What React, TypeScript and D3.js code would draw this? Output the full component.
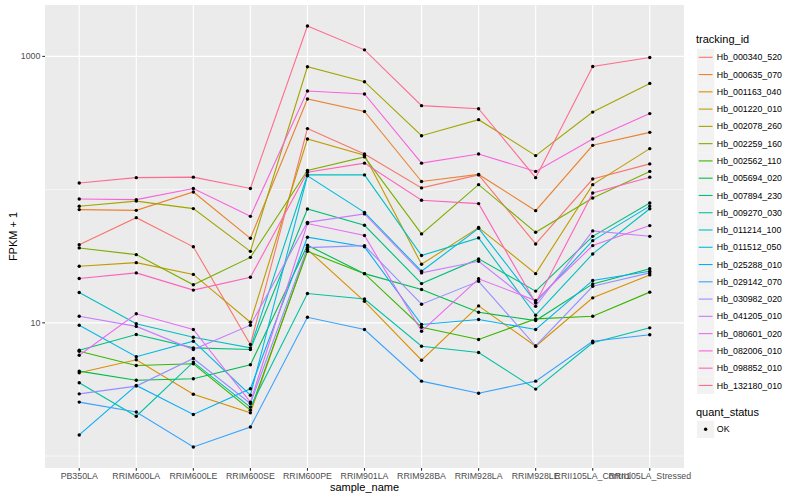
import React, { useEffect, useRef } from 'react';
import * as d3 from 'd3';

const samples = [
  'PB350LA', 'RRIM600LA', 'RRIM600LE', 'RRIM600SE', 'RRIM600PE', 'RRIM901LA',
  'RRIM928BA', 'RRIM928LA', 'RRIM928LE', 'RRII105LA_Control', 'RRII105LA_Stressed',
];

const trackingIds = [
  'Hb_000340_520', 'Hb_000635_070', 'Hb_001163_040', 'Hb_001220_010', 'Hb_002078_260',
  'Hb_002259_160', 'Hb_002562_110', 'Hb_005694_020', 'Hb_007894_230', 'Hb_009270_030',
  'Hb_011214_100', 'Hb_011512_050', 'Hb_025288_010', 'Hb_029142_070', 'Hb_030982_020',
  'Hb_041205_010', 'Hb_080601_020', 'Hb_082006_010', 'Hb_098852_010', 'Hb_132180_010',
];

// ggplot default hue palette, 20 levels
const hueColors = [
  '#F8766D', '#EA8331', '#D89000', '#C09B00', '#A3A500', '#7CAE00', '#39B600', '#00BB4E',
  '#00BF7D', '#00C1A3', '#00BFC4', '#00BAE0', '#00B0F6', '#35A2FF', '#9590FF', '#C77CFF',
  '#E76BF3', '#FA62DB', '#FF62BC', '#FF6C91',
];

// FPKM + 1, one value per sample
const hb000340 = [38.6, 61.6, 37.2, 6.88, 287, 185, 103, 129, 39.1, 120, 156];
const hb000635 = [70.8, 69.9, 96, 43.1, 479, 386, 115, 130, 69.5, 215, 269];
const hb001163 = [4.22, 5.28, 2.91, 2.11, 35.5, 14.5, 5.24, 13.4, 6.67, 15.4, 22.9];
const hb001220 = [26.6, 28.3, 23.1, 10.1, 240, 181, 27.5, 51.9, 23.4, 109, 203];
const hb002078 = [75, 82, 72, 34.4, 836, 646, 254, 335, 180, 382, 627];
const hb002259 = [36.5, 32.5, 19.3, 31, 139, 176, 46.5, 109, 47.8, 86.6, 137];
const hb002562 = [6.12, 4.78, 4.93, 2.21, 34.4, 23.4, 9.27, 7.5, 10.7, 11.2, 17];
const hb005694 = [4.34, 3.71, 3.8, 4.84, 38.2, 23.4, 17.8, 12, 10.4, 19.6, 25.5];
const hb007894 = [6.23, 8.17, 6.49, 6.31, 71.6, 54, 19.7, 30.2, 17.3, 44.6, 79.4];
const hb009270 = [3.55, 1.99, 5.07, 2.33, 16.6, 15.1, 6.67, 5.99, 3.18, 7.08, 9.17];
const hb011214 = [16.9, 9.83, 7.8, 6.49, 129, 129, 32, 43.4, 11.4, 32.9, 71.9];
const hb011512 = [9.59, 5.56, 7.28, 2.86, 127, 67.5, 24.4, 51.2, 14.3, 41.4, 75.2];
const hb025288 = [1.44, 3.39, 2.05, 3.2, 43.9, 37.2, 9.71, 10.6, 8.91, 20.8, 24.4];
const hb029142 = [2.54, 2.14, 1.17, 1.65, 11, 8.91, 3.65, 2.96, 3.65, 7.28, 8.13];
const hb030982 = [2.93, 3.35, 5.4, 2.48, 36.7, 38, 13.8, 20.5, 6.7, 18.8, 23.7];
const hb041205 = [11.2, 9.4, 6.3, 9.6, 56.8, 65.7, 23.7, 29, 13.3, 49, 44.6];
const hb080601 = [5.71, 11.7, 8.91, 2.54, 55.6, 45.2, 8.65, 21.4, 14.7, 38, 53.7];
const hb082006 = [85.1, 84.1, 102, 63, 550, 522, 158, 185, 137, 240, 372];
const hb098852 = [21.5, 23.7, 17.6, 22, 135, 158, 83.1, 78.5, 14.1, 94.4, 124];
const hb132180 = [112, 123, 124, 102, 1690, 1120, 427, 405, 123, 840, 980];

const seriesValues = [
  hb000340, hb000635, hb001163, hb001220, hb002078, hb002259, hb002562, hb005694,
  hb007894, hb009270, hb011214, hb011512, hb025288, hb029142, hb030982, hb041205,
  hb080601, hb082006, hb098852, hb132180,
];

const yMajor = [10, 1000];
const yMinor = [1, 100];

const W = 800;
const H = 500;
const panel = { left: 45, right: 684, top: 5, bottom: 468 };
const FONT = '"Liberation Sans", Arial, Helvetica, sans-serif';

export default function App() {
  const svgRef = useRef<SVGSVGElement>(null);

  useEffect(() => {
    if (!svgRef.current) return;
    const svg = d3.select(svgRef.current);
    svg.selectAll('*').remove();

    const all = seriesValues.flat();
    const lo = Math.log10(d3.min(all) as number);
    const hi = Math.log10(d3.max(all) as number);
    const pad = (hi - lo) * 0.05;

    const x = d3.scalePoint<string>()
      .domain(samples)
      .range([panel.left, panel.right])
      .padding(0.6);

    const y = d3.scaleLog()
      .domain([Math.pow(10, lo - pad), Math.pow(10, hi + pad)])
      .range([panel.bottom, panel.top]);

    // panel
    svg.append('rect')
      .attr('x', panel.left).attr('y', panel.top)
      .attr('width', panel.right - panel.left)
      .attr('height', panel.bottom - panel.top)
      .attr('fill', '#EBEBEB');

    const grid = svg.append('g');
    grid.selectAll('line.minor')
      .data(yMinor)
      .join('line')
      .attr('class', 'minor')
      .attr('x1', panel.left).attr('x2', panel.right)
      .attr('y1', d => y(d)).attr('y2', d => y(d))
      .attr('stroke', '#fff').attr('stroke-width', 0.55);
    grid.selectAll('line.major')
      .data(yMajor)
      .join('line')
      .attr('class', 'major')
      .attr('x1', panel.left).attr('x2', panel.right)
      .attr('y1', d => y(d)).attr('y2', d => y(d))
      .attr('stroke', '#fff').attr('stroke-width', 1.1);
    grid.selectAll('line.vx')
      .data(samples)
      .join('line')
      .attr('class', 'vx')
      .attr('x1', d => x(d) as number).attr('x2', d => x(d) as number)
      .attr('y1', panel.top).attr('y2', panel.bottom)
      .attr('stroke', '#fff').attr('stroke-width', 1.1);

    // lines
    const line = d3.line<number>()
      .x((_, i) => x(samples[i]) as number)
      .y(d => y(d));

    svg.append('g')
      .selectAll('path')
      .data(seriesValues)
      .join('path')
      .attr('d', d => line(d))
      .attr('fill', 'none')
      .attr('stroke', (_, i) => hueColors[i])
      .attr('stroke-width', 1.1);

    // points
    const pts = seriesValues.flatMap(vals => vals.map((v, i) => ({ s: samples[i], v })));
    svg.append('g')
      .selectAll('circle')
      .data(pts)
      .join('circle')
      .attr('cx', d => x(d.s) as number)
      .attr('cy', d => y(d.v))
      .attr('r', 1.7)
      .attr('fill', '#000');

    // y axis
    const yAxis = svg.append('g');
    yAxis.selectAll('line')
      .data(yMajor)
      .join('line')
      .attr('x1', panel.left - 2.7).attr('x2', panel.left)
      .attr('y1', d => y(d)).attr('y2', d => y(d))
      .attr('stroke', '#333').attr('stroke-width', 1.1);
    yAxis.selectAll('text')
      .data(yMajor)
      .join('text')
      .attr('x', panel.left - 4.6)
      .attr('y', d => y(d))
      .attr('dy', '0.35em')
      .attr('text-anchor', 'end')
      .attr('font-family', FONT)
      .attr('font-size', 8.8)
      .attr('fill', '#4D4D4D')
      .text(d => String(d));

    // x axis
    const xAxis = svg.append('g');
    xAxis.selectAll('line')
      .data(samples)
      .join('line')
      .attr('x1', d => x(d) as number).attr('x2', d => x(d) as number)
      .attr('y1', panel.bottom).attr('y2', panel.bottom + 2.7)
      .attr('stroke', '#333').attr('stroke-width', 1.1);
    xAxis.selectAll('text')
      .data(samples)
      .join('text')
      .attr('x', d => x(d) as number)
      .attr('y', panel.bottom + 4.9)
      .attr('dy', '0.71em')
      .attr('text-anchor', 'middle')
      .attr('font-family', FONT)
      .attr('font-size', 8.8)
      .attr('fill', '#4D4D4D')
      .text(d => d);

    // axis titles
    svg.append('text')
      .attr('x', (panel.left + panel.right) / 2)
      .attr('y', 490.5)
      .attr('text-anchor', 'middle')
      .attr('font-family', FONT)
      .attr('font-size', 11)
      .attr('fill', '#000')
      .text('sample_name');

    svg.append('text')
      .attr('transform', `translate(16.5,${(panel.top + panel.bottom) / 2}) rotate(-90)`)
      .attr('text-anchor', 'middle')
      .attr('font-family', FONT)
      .attr('font-size', 11)
      .attr('fill', '#000')
      .text('FPKM + 1');

    // legend: tracking_id
    const lx = 697;
    const key = 17.27;
    const leg = svg.append('g');
    leg.append('text')
      .attr('x', lx - 1).attr('y', 43)
      .attr('font-family', FONT).attr('font-size', 11).attr('fill', '#000')
      .text('tracking_id');

    const items = leg.selectAll('g.item')
      .data(trackingIds)
      .join('g')
      .attr('class', 'item')
      .attr('transform', (_, i) => `translate(${lx},${57.3 + i * key})`);
    items.append('rect')
      .attr('x', 0).attr('y', -key / 2)
      .attr('width', key).attr('height', key)
      .attr('fill', '#F2F2F2');
    items.append('line')
      .attr('x1', 1.7).attr('x2', key - 1.7)
      .attr('y1', 0).attr('y2', 0)
      .attr('stroke', (_, i) => hueColors[i])
      .attr('stroke-width', 1.1);
    items.append('text')
      .attr('x', key + 2.6).attr('y', 0).attr('dy', '0.35em')
      .attr('font-family', FONT).attr('font-size', 8.8).attr('fill', '#000')
      .text(d => d);

    // legend: quant_status
    leg.append('text')
      .attr('x', lx - 1).attr('y', 416)
      .attr('font-family', FONT).attr('font-size', 11).attr('fill', '#000')
      .text('quant_status');
    const ok = leg.append('g').attr('transform', `translate(${lx},429.3)`);
    ok.append('rect')
      .attr('x', 0).attr('y', -key / 2)
      .attr('width', key).attr('height', key)
      .attr('fill', '#F2F2F2');
    ok.append('circle')
      .attr('cx', key / 2).attr('cy', 0).attr('r', 1.7).attr('fill', '#000');
    ok.append('text')
      .attr('x', key + 2.6).attr('y', 0).attr('dy', '0.35em')
      .attr('font-family', FONT).attr('font-size', 8.8).attr('fill', '#000')
      .text('OK');
  }, []);

  return (
    <svg
      ref={svgRef}
      width={W}
      height={H}
      style={{ position: 'absolute', left: 0, top: 0, background: '#fff' }}
    />
  );
}
